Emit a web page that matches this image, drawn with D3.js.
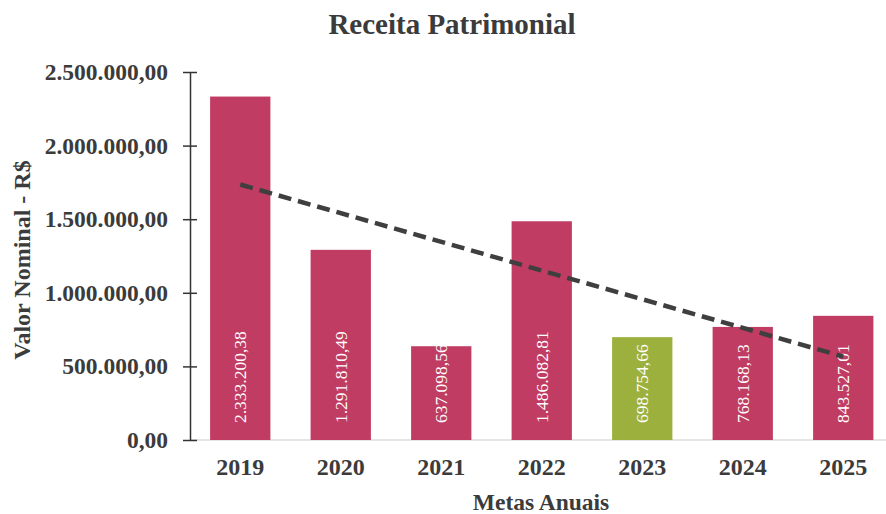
<!DOCTYPE html>
<html>
<head>
<meta charset="utf-8">
<script src="https://cdn.jsdelivr.net/npm/d3@7"></script>
<style>
  body { margin: 0; background: #fff; }
  text { font-family: "Liberation Serif", "Times New Roman", serif; }
</style>
</head>
<body>
<svg id="chart" width="886" height="514"></svg>
<script>
// Data
var years = ["2019", "2020", "2021", "2022", "2023", "2024", "2025"];
var values = [2333200.38, 1291810.49, 637098.56, 1486082.81, 698754.66, 768168.13, 843527.01];
var highlightYear = "2023";
var yTicks = [0, 500000, 1000000, 1500000, 2000000, 2500000];

var svg = d3.select("#chart");
var textColor = "#3b3b3b";
var serif = "'Liberation Serif', 'Times New Roman', serif";

// number format pt-BR: 2.333.200,38
var br = d3.formatLocale({ decimal: ",", thousands: ".", grouping: [3], currency: ["R$", ""] });
var fmt = br.format(",.2f");

var x = d3.scaleBand()
    .domain(years)
    .range([190, 893.5])
    .paddingInner(0.4)
    .paddingOuter(0.2);
var y = d3.scaleLinear()
    .domain([0, 2500000])
    .range([440, 72]);

// Title
svg.append("text")
    .attr("x", 452).attr("y", 34)
    .attr("text-anchor", "middle")
    .style("font-family", serif)
    .style("font-size", "29px").style("font-weight", "bold")
    .attr("fill", textColor)
    .text("Receita Patrimonial");

// baseline
svg.append("line")
    .attr("x1", 190).attr("x2", 886)
    .attr("y1", y(0)).attr("y2", y(0))
    .attr("stroke", "#dcdcdc").attr("stroke-width", 1.5);

// bars
svg.selectAll("rect.bar")
    .data(years)
    .enter().append("rect")
    .attr("class", "bar")
    .attr("x", function (d) { return x(d); })
    .attr("width", x.bandwidth())
    .attr("y", function (d, i) { return y(values[i]); })
    .attr("height", function (d, i) { return y(0) - y(values[i]); })
    .attr("fill", function (d) { return d == highlightYear ? "#9cb03e" : "#c03c63"; });

// bar value labels (rotated)
svg.selectAll("text.val")
    .data(years)
    .enter().append("text")
    .attr("class", "val")
    .attr("transform", function (d) {
        return "translate(" + (x(d) + x.bandwidth() / 2) + "," + (y(0) - 17) + ") rotate(-90)";
    })
    .attr("dy", "0.35em")
    .attr("fill", "#fff")
    .style("font-family", serif)
    .style("font-size", "17.5px")
    .text(function (d, i) { return fmt(values[i]); });

// trend line (linear regression over the bars)
var n = values.length;
var mx = d3.mean(values, function (d, i) { return i; });
var my = d3.mean(values);
var slope = d3.sum(values, function (d, i) { return (i - mx) * (d - my); }) /
    d3.sum(values, function (d, i) { return (i - mx) * (i - mx); });
var trend = [0, n - 1].map(function (i) { return { year: years[i], v: my + slope * (i - mx) }; });
var line = d3.line()
    .x(function (d) { return x(d.year) + x.bandwidth() / 2; })
    .y(function (d) { return y(d.v); });
svg.append("path")
    .attr("d", line(trend))
    .attr("fill", "none")
    .attr("stroke", "#3f3f3f")
    .attr("stroke-width", 4.5)
    .attr("stroke-dasharray", "13,7");

// y axis
var yAxis = d3.axisLeft(y)
    .tickValues(yTicks)
    .tickFormat(fmt)
    .tickSize(7)
    .tickSizeOuter(0)
    .tickPadding(15);
var gY = svg.append("g")
    .attr("transform", "translate(190,0)")
    .call(yAxis);
gY.select(".domain").attr("stroke", "#333").attr("stroke-width", 1.5);
gY.selectAll(".tick line").attr("x1", 7).attr("x2", -7).attr("stroke", "#333").attr("stroke-width", 1.5);
gY.selectAll(".tick text")
    .attr("fill", textColor)
    .style("font-family", serif)
    .style("font-size", "23.5px").style("font-weight", "bold");

// x axis
var xAxis = d3.axisBottom(x).tickSize(0).tickPadding(0);
var gX = svg.append("g")
    .attr("transform", "translate(0,475)")
    .call(xAxis);
gX.select(".domain").remove();
gX.selectAll(".tick text")
    .attr("dy", 0)
    .attr("fill", textColor)
    .style("font-family", serif)
    .style("font-size", "24px").style("font-weight", "bold");

// axis titles
svg.append("text")
    .attr("x", 541).attr("y", 510)
    .attr("text-anchor", "middle")
    .style("font-family", serif)
    .style("font-size", "23.5px").style("font-weight", "bold")
    .attr("fill", textColor)
    .text("Metas Anuais");

svg.append("text")
    .attr("transform", "translate(30,260) rotate(-90)")
    .attr("text-anchor", "middle")
    .style("font-family", serif)
    .style("font-size", "24px").style("font-weight", "bold")
    .attr("fill", textColor)
    .text("Valor Nominal - R$");
</script>
</body>
</html>
